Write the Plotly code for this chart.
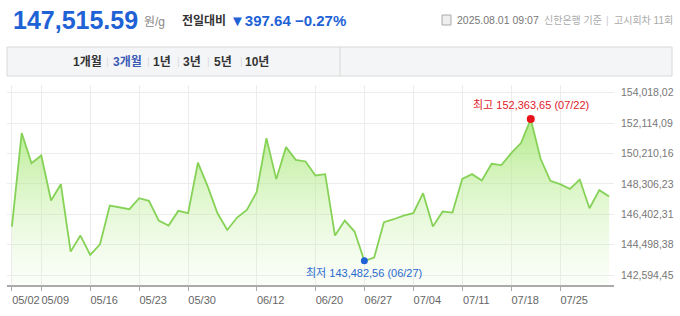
import plotly.graph_objects as go

# ---------------- data ----------------
dates = ["05/02","05/07","05/08","05/09","05/12","05/13","05/14","05/15","05/16","05/19",
         "05/20","05/21","05/22","05/23","05/26","05/27","05/28","05/29","05/30","06/02",
         "06/04","06/05","06/09","06/10","06/11","06/12","06/13","06/16","06/17","06/18",
         "06/19","06/20","06/23","06/24","06/25","06/26","06/27","06/30","07/01","07/02",
         "07/03","07/04","07/07","07/08","07/09","07/10","07/11","07/14","07/15","07/16",
         "07/17","07/18","07/21","07/22","07/23","07/24","07/25","07/28","07/29","07/30",
         "07/31","08/01"]
prices = [145629, 151487, 149604, 150085, 147261, 148286, 144060, 145064, 143851, 144520,
          146947, 146821, 146717, 147407, 147240, 146006, 145692, 146612, 146466, 149640,
          148150, 146463, 145415, 146194, 146675, 147784, 151173, 148600, 150608, 149813,
          149709, 148830, 148914, 145064, 146006, 145315, 143482.56, 143684, 145901, 146089,
          146320, 146466, 147721, 145629, 146571, 146508, 148621, 148914, 148516, 149562,
          149478, 150232, 150859, 152363.65, 149876, 148495, 148286, 147993, 148579, 146780,
          147913.23, 147515.59]
tick_dates = ["05/02","05/09","05/16","05/23","05/30","06/12","06/20","06/27","07/04","07/11","07/18","07/25"]
y_ticks = [142594.45, 144498.38, 146402.31, 148306.23, 150210.16, 152114.09, 154018.02]
y_range = [141967.8, 154500.6]

# ---------------- layout constants ----------------
W, H = 680, 316
ML, MR, MT, MB = 7, 66, 85, 31
PW, PH = W - ML - MR, H - MT - MB

def fx(x):
    return (x - ML) / PW

def fy(y):
    return (H - MB - y) / PH

def fmt(v):
    return f"{v:,.2f}".replace(".", ",")

BLUE = "#1e62d6"
FONT = "Liberation Sans, Noto Sans CJK KR, sans-serif"

idx = list(range(len(dates)))
imax = max(idx, key=lambda i: prices[i])
imin = min(idx, key=lambda i: prices[i])

fig = go.Figure()
fig.add_trace(go.Scatter(x=idx, y=[y_range[0]] * len(idx), mode="lines",
                         line=dict(width=0), hoverinfo="skip", showlegend=False))
fig.add_trace(go.Scatter(
    x=idx, y=prices, mode="lines", fill="tonexty",
    line=dict(color="#86d257", width=1.8),
    fillgradient=dict(type="vertical", start=y_range[0], stop=max(prices),
                      colorscale=[[0, "rgba(220,246,200,0.12)"], [1, "rgba(155,228,100,0.75)"]]),
    showlegend=False))
fig.add_trace(go.Scatter(x=[imax], y=[prices[imax]], mode="markers",
                         marker=dict(color="#e8121c", size=8), showlegend=False))
fig.add_trace(go.Scatter(x=[imin], y=[prices[imin]], mode="markers",
                         marker=dict(color="#1e62d6", size=7), showlegend=False))

ann = []
def text(x, y, s, size, color, bold=False, anchor="left"):
    ann.append(dict(x=fx(x), y=fy(y), xref="paper", yref="paper", xanchor=anchor, yanchor="middle",
                    text=("<b>%s</b>" % s) if bold else s, showarrow=False,
                    font=dict(family=FONT, size=size, color=color)))

# header
text(11, 20, "147,515.59", 25, BLUE, bold=True)
text(142, 22, "원/g", 12, "#888888")
text(180, 21, "전일대비", 12, "#333333", bold=True)
text(228, 21, "▼397.64", 15, BLUE, bold=True)
text(293, 21, "−0.27%", 15, BLUE, bold=True)
text(455, 20, "2025.08.01 09:07", 10.5, "#777777")
text(542, 20, "신한은행 기준", 10, "#aaaaaa")
text(604, 20, "|", 10, "#cccccc")
text(612, 20, "고시회차 11회", 10, "#aaaaaa")

# tabs
tabs = [("1개월", 87, "#333333"), ("3개월", 127, "#3b5bb5"), ("1년", 162, "#333333"),
        ("3년", 192, "#333333"), ("5년", 223, "#333333"), ("10년", 257, "#333333")]
for s, x, c in tabs:
    text(x, 61.5, s, 12, c, bold=True, anchor="center")
for x in [108, 148, 178, 209, 241]:
    text(x, 61.5, "|", 10, "#dadada", anchor="center")

# max / min labels
ann.append(dict(x=imax, y=prices[imax], xref="x", yref="y", yanchor="bottom", yshift=6,
                text=f"최고 {fmt(prices[imax])} ({dates[imax]})", showarrow=False,
                font=dict(family=FONT, size=11, color="#e0202a")))
ann.append(dict(x=imin, y=prices[imin], xref="x", yref="y", yanchor="top", yshift=-4,
                text=f"최저 {fmt(prices[imin])} ({dates[imin]})", showarrow=False,
                font=dict(family=FONT, size=11, color="#2a6ad0")))

shapes = [
    dict(type="rect", xref="paper", yref="paper", x0=fx(7), x1=fx(672), y0=fy(47), y1=fy(76),
         fillcolor="#f4f5f7", line=dict(color="#d8d8d8", width=1), layer="below"),
    dict(type="line", xref="paper", yref="paper", x0=fx(340), x1=fx(340), y0=fy(47), y1=fy(76),
         line=dict(color="#d8d8d8", width=1)),
    dict(type="rect", xref="paper", yref="paper", x0=fx(442), x1=fx(451), y0=fy(15), y1=fy(25),
         line=dict(color="#aaaaaa", width=1), fillcolor="#eeeeee"),
]

fig.update_layout(
    width=W, height=H, margin=dict(l=ML, r=MR, t=MT, b=MB, autoexpand=False),
    paper_bgcolor="white", plot_bgcolor="white",
    annotations=ann, shapes=shapes, hovermode=False,
    xaxis=dict(range=[-0.5, len(idx) - 0.5], tickmode="array",
               tickvals=[dates.index(d) for d in tick_dates], ticktext=tick_dates,
               showgrid=True, gridcolor="#ececec", gridwidth=1,
               showline=True, linecolor="#aaaaaa", linewidth=2,
               ticks="outside", ticklen=4, tickcolor="#aaaaaa",
               tickangle=0, ticklabelshift=14, ticklabeloverflow="allow",
               tickfont=dict(family=FONT, size=11, color="#666666"),
               zeroline=False, automargin=False, fixedrange=True),
    yaxis=dict(range=y_range, side="right", tickmode="array", tickvals=y_ticks,
               ticktext=[fmt(v) for v in y_ticks], showgrid=True, gridcolor="#ececec",
               ticks="", ticklabelstandoff=6,
               tickfont=dict(family=FONT, size=10.5, color="#777777"),
               zeroline=False, showline=False, automargin=False, fixedrange=True),
)

fig.write_html("out.html")
